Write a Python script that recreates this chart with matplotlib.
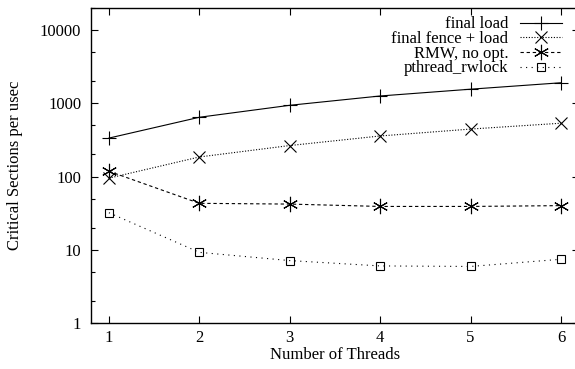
import matplotlib
matplotlib.use("Agg")
import matplotlib.pyplot as plt
from matplotlib.ticker import LogLocator, FixedLocator, NullFormatter

plt.rcParams["font.family"] = ["Liberation Serif", "DejaVu Serif"]
plt.rcParams["font.size"] = 12

threads = [1, 2, 3, 4, 5, 6]
final_load = [335, 645, 940, 1260, 1560, 1910]
final_fence_load = [95, 185, 265, 358, 445, 535]
rmw_no_opt = [118, 43, 42, 39, 39, 40]
pthread_rwlock = [32, 9.2, 7.1, 6.0, 5.9, 7.4]

yticks = [1, 10, 100, 1000, 10000]

fig = plt.figure(figsize=(5.75, 3.69), dpi=100)
ax = fig.add_axes([0.158, 0.125, 0.849, 0.853])

lw = 0.8
ax.plot(threads, final_load, color="black", lw=lw, ls="-",
        marker="+", ms=10, mew=0.8, label="final load")
ax.plot(threads, final_fence_load, color="black", lw=lw, ls=(0, (1, 1.5)),
        marker="x", ms=9, mew=0.8, label="final fence + load")
ax.plot(threads, rmw_no_opt, color="black", lw=lw, ls=(0, (3, 2.5)),
        marker=(6, 2, 0), ms=11, mew=0.8, label="RMW, no opt.")
ax.plot(threads, pthread_rwlock, color="black", lw=lw, ls=(0, (1, 4)),
        marker="s", ms=6, mew=0.8, mfc="none", label="pthread_rwlock")

ax.set_yscale("log")
ax.set_xlim(0.8, 6.2)
ax.set_ylim(1, 20000)
ax.set_xticks(threads)
ax.yaxis.set_major_locator(FixedLocator(yticks))
ax.set_yticklabels([str(v) for v in yticks])
ax.yaxis.set_minor_locator(LogLocator(base=10, subs=(2.0, 5.0)))
ax.yaxis.set_minor_formatter(NullFormatter())

ax.tick_params(which="both", direction="in", top=True, right=True, width=0.8)
ax.tick_params(which="major", length=5)
ax.tick_params(axis="y", which="major", pad=7)
ax.tick_params(axis="x", which="major", pad=5)
ax.tick_params(which="minor", length=3)
for s in ax.spines.values():
    s.set_linewidth(1.0)

ax.set_xlabel("Number of Threads", labelpad=1)
ax.set_ylabel("Critical Sections per usec", labelpad=12)

ax.legend(loc="upper right", frameon=False, markerfirst=False,
          handlelength=2.5, handletextpad=0.7, labelspacing=-0.08,
          borderaxespad=0.0, bbox_to_anchor=(0.978, 0.995))

fig.savefig("out.png", dpi=100)
